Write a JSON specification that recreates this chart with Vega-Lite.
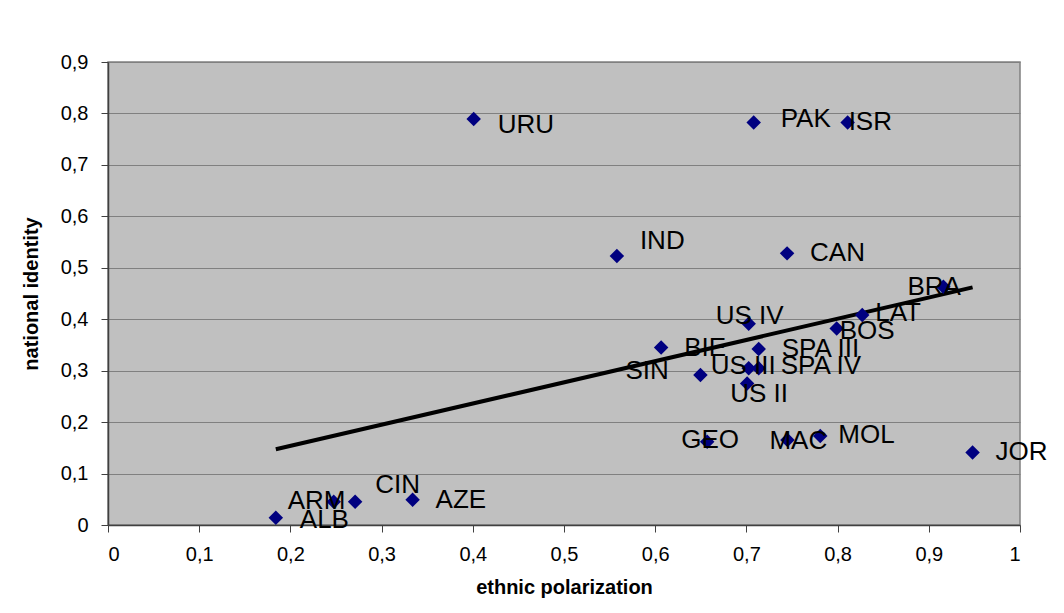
{
  "$schema": "https://vega.github.io/schema/vega-lite/v6.json",
  "autosize": "none",
  "width": 912,
  "height": 463,
  "padding": {"left": 108, "top": 62, "right": 44, "bottom": 88},
  "background": "#ffffff",
  "config": {
    "font": "Liberation Sans",
    "view": {"fill": "#C0C0C0", "stroke": "#808080", "strokeWidth": 1.5}
  },
  "data": {
    "values": [
      {"c": "ALB", "ep": 0.184, "ni": 0.014},
      {"c": "ARM", "ep": 0.2475, "ni": 0.045},
      {"c": "CIN", "ep": 0.271, "ni": 0.045},
      {"c": "AZE", "ep": 0.334, "ni": 0.049},
      {"c": "URU", "ep": 0.401, "ni": 0.789},
      {"c": "IND", "ep": 0.558, "ni": 0.523},
      {"c": "BIE", "ep": 0.6065, "ni": 0.345},
      {"c": "SIN", "ep": 0.6496, "ni": 0.2915},
      {"c": "GEO", "ep": 0.657, "ni": 0.162},
      {"c": "US IV", "ep": 0.7025, "ni": 0.391},
      {"c": "US III", "ep": 0.7025, "ni": 0.3045},
      {"c": "US II", "ep": 0.7008, "ni": 0.275},
      {"c": "PAK", "ep": 0.708, "ni": 0.7825},
      {"c": "SPA III", "ep": 0.7135, "ni": 0.342},
      {"c": "SPA IV", "ep": 0.7135, "ni": 0.3045},
      {"c": "CAN", "ep": 0.7446, "ni": 0.528},
      {"c": "MAC", "ep": 0.745, "ni": 0.165},
      {"c": "MOL", "ep": 0.781, "ni": 0.173},
      {"c": "BOS", "ep": 0.799, "ni": 0.382},
      {"c": "ISR", "ep": 0.811, "ni": 0.7825},
      {"c": "LAT", "ep": 0.827, "ni": 0.408},
      {"c": "BRA", "ep": 0.916, "ni": 0.463},
      {"c": "JOR", "ep": 0.948, "ni": 0.141}
    ]
  },
  "encoding": {
    "x": {
      "field": "ep", "type": "quantitative",
      "scale": {"domain": [0, 1], "nice": false, "zero": false},
      "axis": {
        "title": "ethnic polarization",
        "values": [0, 0.1, 0.2, 0.3, 0.4, 0.5, 0.6, 0.7, 0.8, 0.9, 1],
        "labelExpr": "replace(format(datum.value, '.1~f'), '.', ',')",
        "grid": false,
        "domainColor": "#404040", "domainWidth": 1.5,
        "tickColor": "#404040", "tickSize": 7, "tickWidth": 1,
        "labelFontSize": 20, "labelColor": "#000000", "labelPadding": 12, "labelFont": "Liberation Sans",
        "titleFontSize": 20, "titleFontWeight": "bold", "titleColor": "#000000", "titlePadding": 13, "titleFont": "Liberation Sans"
      }
    },
    "y": {
      "field": "ni", "type": "quantitative",
      "scale": {"domain": [0, 0.9], "nice": false, "zero": false},
      "axis": {
        "title": "national identity",
        "values": [0, 0.1, 0.2, 0.3, 0.4, 0.5, 0.6, 0.7, 0.8, 0.9],
        "labelExpr": "replace(format(datum.value, '.1~f'), '.', ',')",
        "grid": true, "gridColor": "#808080", "gridWidth": 1.2,
        "domainColor": "#404040", "domainWidth": 1.5,
        "tickColor": "#404040", "tickSize": 7, "tickWidth": 1,
        "labelFontSize": 20, "labelColor": "#000000", "labelPadding": 13, "labelFont": "Liberation Sans",
        "titleFontSize": 20, "titleFontWeight": "bold", "titleColor": "#000000", "titlePadding": 19, "titleFont": "Liberation Sans"
      }
    }
  },
  "layer": [
    {
      "transform": [{"regression": "ni", "on": "ep", "method": "linear"}],
      "mark": {"type": "line", "color": "#000000", "strokeWidth": 4, "clip": true}
    },
    {
      "mark": {"type": "point", "shape": "diamond", "filled": true, "size": 210, "color": "#000080", "opacity": 1}
    },
    {
      "transform": [{"filter": {"field": "c", "oneOf": ["CAN", "BIE", "SPA III", "JOR", "AZE"]}}],
      "mark": {"type": "text", "align": "left", "baseline": "middle", "fontSize": 26, "dx": 23, "dy": 0, "color": "#000000"},
      "encoding": {"text": {"field": "c"}}
    },
    {
      "transform": [{"filter": {"field": "c", "equal": "ALB"}}],
      "mark": {"type": "text", "align": "left", "baseline": "middle", "fontSize": 26, "dx": 24, "dy": 2, "color": "#000000"},
      "encoding": {"text": {"field": "c"}}
    },
    {
      "transform": [{"filter": {"field": "c", "equal": "SPA IV"}}],
      "mark": {"type": "text", "align": "left", "baseline": "middle", "fontSize": 26, "dx": 22, "dy": -2, "color": "#000000"},
      "encoding": {"text": {"field": "c"}}
    },
    {
      "transform": [{"filter": {"field": "c", "equal": "MOL"}}],
      "mark": {"type": "text", "align": "left", "baseline": "middle", "fontSize": 26, "dx": 18, "dy": -1, "color": "#000000"},
      "encoding": {"text": {"field": "c"}}
    },
    {
      "transform": [{"filter": {"field": "c", "equal": "URU"}}],
      "mark": {"type": "text", "align": "left", "baseline": "middle", "fontSize": 26, "dx": 24, "dy": 6, "color": "#000000"},
      "encoding": {"text": {"field": "c"}}
    },
    {
      "transform": [{"filter": {"field": "c", "equal": "PAK"}}],
      "mark": {"type": "text", "align": "left", "baseline": "middle", "fontSize": 26, "dx": 27, "dy": -3, "color": "#000000"},
      "encoding": {"text": {"field": "c"}}
    },
    {
      "transform": [{"filter": {"field": "c", "equal": "ISR"}}],
      "mark": {"type": "text", "align": "left", "baseline": "middle", "fontSize": 26, "dx": 1, "dy": 0, "color": "#000000"},
      "encoding": {"text": {"field": "c"}}
    },
    {
      "transform": [{"filter": {"field": "c", "equal": "IND"}}],
      "mark": {"type": "text", "align": "left", "baseline": "middle", "fontSize": 26, "dx": 23, "dy": -15, "color": "#000000"},
      "encoding": {"text": {"field": "c"}}
    },
    {
      "transform": [{"filter": {"field": "c", "equal": "BRA"}}],
      "mark": {"type": "text", "align": "left", "baseline": "middle", "fontSize": 26, "dx": -36, "dy": 0, "color": "#000000"},
      "encoding": {"text": {"field": "c"}}
    },
    {
      "transform": [{"filter": {"field": "c", "equal": "LAT"}}],
      "mark": {"type": "text", "align": "left", "baseline": "middle", "fontSize": 26, "dx": 13, "dy": -2, "color": "#000000"},
      "encoding": {"text": {"field": "c"}}
    },
    {
      "transform": [{"filter": {"field": "c", "equal": "BOS"}}],
      "mark": {"type": "text", "align": "left", "baseline": "middle", "fontSize": 26, "dx": 3, "dy": 3, "color": "#000000"},
      "encoding": {"text": {"field": "c"}}
    },
    {
      "transform": [{"filter": {"field": "c", "equal": "US IV"}}],
      "mark": {"type": "text", "align": "left", "baseline": "middle", "fontSize": 26, "dx": -33, "dy": -8, "color": "#000000"},
      "encoding": {"text": {"field": "c"}}
    },
    {
      "transform": [{"filter": {"field": "c", "equal": "US III"}}],
      "mark": {"type": "text", "align": "left", "baseline": "middle", "fontSize": 26, "dx": -38, "dy": -2, "color": "#000000"},
      "encoding": {"text": {"field": "c"}}
    },
    {
      "transform": [{"filter": {"field": "c", "equal": "SIN"}}],
      "mark": {"type": "text", "align": "left", "baseline": "middle", "fontSize": 26, "dx": -75, "dy": -4, "color": "#000000"},
      "encoding": {"text": {"field": "c"}}
    },
    {
      "transform": [{"filter": {"field": "c", "equal": "US II"}}],
      "mark": {"type": "text", "align": "left", "baseline": "middle", "fontSize": 26, "dx": -17, "dy": 10, "color": "#000000"},
      "encoding": {"text": {"field": "c"}}
    },
    {
      "transform": [{"filter": {"field": "c", "equal": "GEO"}}],
      "mark": {"type": "text", "align": "left", "baseline": "middle", "fontSize": 26, "dx": -26, "dy": -2, "color": "#000000"},
      "encoding": {"text": {"field": "c"}}
    },
    {
      "transform": [{"filter": {"field": "c", "equal": "MAC"}}],
      "mark": {"type": "text", "align": "left", "baseline": "middle", "fontSize": 26, "dx": -18, "dy": 1, "color": "#000000"},
      "encoding": {"text": {"field": "c"}}
    },
    {
      "transform": [{"filter": {"field": "c", "equal": "ARM"}}],
      "mark": {"type": "text", "align": "left", "baseline": "middle", "fontSize": 26, "dx": -46, "dy": -1, "color": "#000000"},
      "encoding": {"text": {"field": "c"}}
    },
    {
      "transform": [{"filter": {"field": "c", "equal": "CIN"}}],
      "mark": {"type": "text", "align": "left", "baseline": "middle", "fontSize": 26, "dx": 20, "dy": -17, "color": "#000000"},
      "encoding": {"text": {"field": "c"}}
    }
  ]
}
